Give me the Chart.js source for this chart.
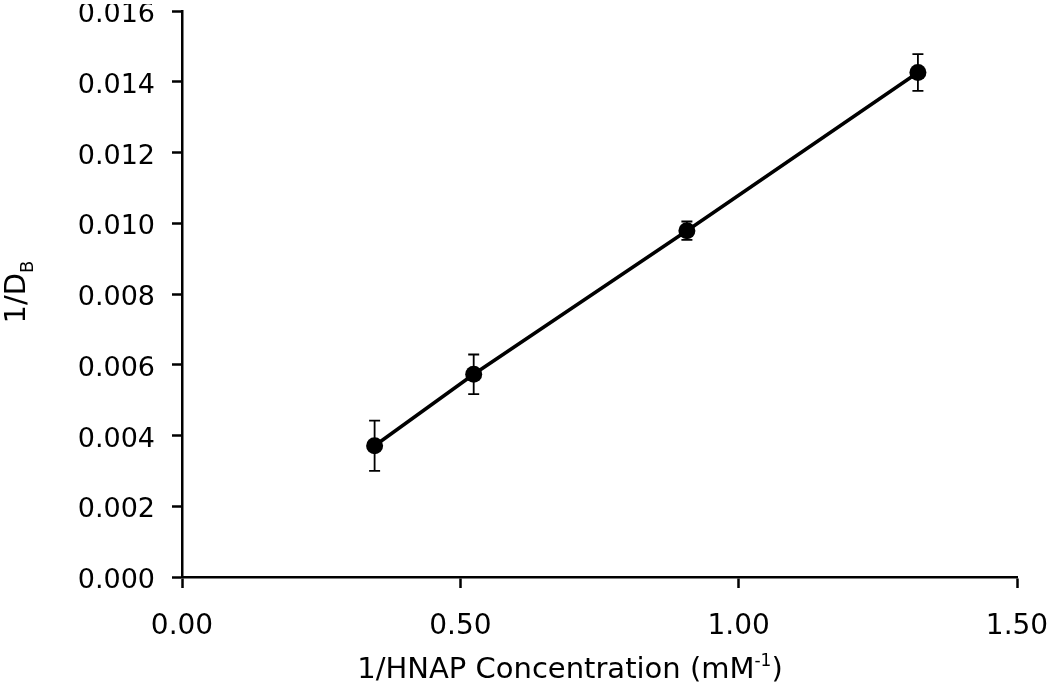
<!DOCTYPE html>
<html>
<head>
<meta charset="utf-8">
<script src="https://cdn.jsdelivr.net/npm/chart.js@4"></script>
<style>
  html, body { margin: 0; padding: 0; background: #fff; }
  #wrap { width: 1050px; height: 692px; }
</style>
</head>
<body>
<div id="wrap"><canvas id="chart" width="1050" height="692"></canvas></div>
<script>
// values
const xValues = [0.346, 0.524, 0.907, 1.322];
const yValues = [0.00371, 0.00573, 0.00979, 0.01426];
const yErrors = [0.00071, 0.00056, 0.00026, 0.00052];

const xTicks = [0, 0.5, 1.0, 1.5];
const yTicks = [0, 0.002, 0.004, 0.006, 0.008, 0.010, 0.012, 0.014, 0.016];

const FONT = "'DejaVu Sans', Verdana, sans-serif";

// error bars, drawn through the scales
const errorBars = {
  id: 'errorBars',
  afterDatasetsDraw(c) {
    const ctx = c.ctx;
    const xs = c.scales.x, ys = c.scales.y;
    ctx.save();
    ctx.strokeStyle = '#000';
    ctx.lineWidth = 1.8;
    xValues.forEach((xv, i) => {
      const px = xs.getPixelForValue(xv);
      const top = ys.getPixelForValue(yValues[i] + yErrors[i]);
      const bot = ys.getPixelForValue(yValues[i] - yErrors[i]);
      ctx.beginPath();
      ctx.moveTo(px, top); ctx.lineTo(px, bot);
      ctx.moveTo(px - 5.5, top); ctx.lineTo(px + 5.5, top);
      ctx.moveTo(px - 5.5, bot); ctx.lineTo(px + 5.5, bot);
      ctx.stroke();
    });
    ctx.restore();
  }
};

// axis titles with sub/superscripts
const axisTitles = {
  id: 'axisTitles',
  afterDraw(c) {
    const ctx = c.ctx;
    ctx.save();
    ctx.fillStyle = '#000';
    ctx.textBaseline = 'alphabetic';

    // x title
    const main = '1/HNAP Concentration (mM';
    const sup = '-1';
    const close = ')';
    ctx.font = `29px ${FONT}`;
    const wMain = ctx.measureText(main).width;
    const wClose = ctx.measureText(close).width;
    ctx.font = `17px ${FONT}`;
    const wSup = ctx.measureText(sup).width;
    let x = 570 - (wMain + wSup + wClose) / 2;
    const base = 678;
    ctx.textAlign = 'left';
    ctx.font = `29px ${FONT}`;
    ctx.fillText(main, x, base);
    x += wMain;
    ctx.font = `17px ${FONT}`;
    ctx.fillText(sup, x, base - 12);
    x += wSup;
    ctx.font = `29px ${FONT}`;
    ctx.fillText(close, x, base);

    // y title (rotated)
    ctx.translate(25, 292);
    ctx.rotate(-Math.PI / 2);
    ctx.font = `29px ${FONT}`;
    const t1 = '1/D';
    const w1 = ctx.measureText(t1).width;
    ctx.font = `18px ${FONT}`;
    const w2 = ctx.measureText('B').width;
    let y = -(w1 + w2) / 2;
    ctx.font = `29px ${FONT}`;
    ctx.fillText(t1, y, 0);
    ctx.font = `18px ${FONT}`;
    ctx.fillText('B', y + w1, 8);
    ctx.restore();
  }
};

// y labels sit a few px below their ticks in the reference
function nudgeYLabels(s) {
  if (s._nudged) return;
  s._nudged = true;
  const orig = s.drawLabels;
  s.drawLabels = function (area) {
    this.ctx.save();
    this.ctx.translate(0, 4);
    orig.call(this, area);
    this.ctx.restore();
  };
}

const ctx = document.getElementById('chart').getContext('2d');
const chart = new Chart(ctx, {
  type: 'scatter',
  data: {
    datasets: [{
      data: xValues.map((x, i) => ({ x: x, y: yValues[i] })),
      showLine: true,
      borderColor: '#000',
      borderWidth: 3.5,
      backgroundColor: '#000',
      pointRadius: 8.5,
      pointHoverRadius: 8.5,
      pointBackgroundColor: '#000',
      pointBorderWidth: 0
    }]
  },
  options: {
    responsive: false,
    animation: false,
    events: [],
    layout: { padding: { left: 0, right: 33, top: 11, bottom: 0 } },
    plugins: {
      legend: { display: false },
      tooltip: { enabled: false },
      title: { display: false }
    },
    scales: {
      x: {
        type: 'linear',
        min: 0,
        max: 1.5,
        afterBuildTicks: s => { s.ticks = xTicks.map(v => ({ value: v })); },
        afterFit: s => { s.height = 115; s.paddingLeft = 0; s.paddingRight = 0; },
        grid: { drawOnChartArea: false, drawTicks: true, tickLength: 11, tickColor: '#000', tickWidth: 2.5 },
        border: { display: true, color: '#000', width: 2.5 },
        ticks: {
          color: '#000',
          font: { family: FONT, size: 28 },
          padding: 22,
          maxRotation: 0,
          callback: v => Number(v).toFixed(2)
        }
      },
      y: {
        type: 'linear',
        min: 0,
        max: 0.016,
        afterBuildTicks: s => { s.ticks = yTicks.map(v => ({ value: v })); },
        afterFit: s => { s.width = 182; s.paddingTop = 0; s.paddingBottom = 0; nudgeYLabels(s); },
        grid: { drawOnChartArea: false, drawTicks: true, tickLength: 10, tickColor: '#000', tickWidth: 2.5 },
        border: { display: true, color: '#000', width: 2.5 },
        ticks: {
          color: '#000',
          font: { family: FONT, size: 27 },
          padding: 17,
          callback: v => Number(v).toFixed(3)
        }
      }
    }
  },
  plugins: [errorBars, axisTitles]
});
</script>
</body>
</html>
